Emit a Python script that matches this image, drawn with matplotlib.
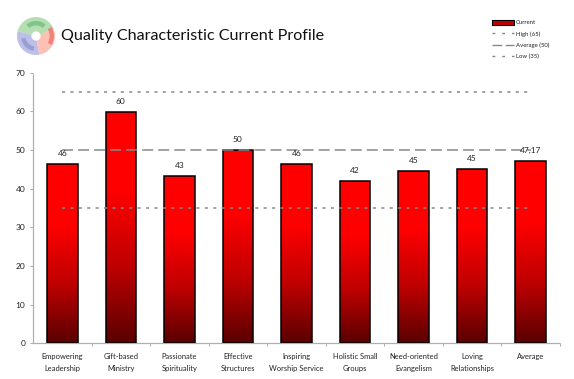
import matplotlib
matplotlib.use('Agg')
import matplotlib.pyplot as plt
from matplotlib.colors import LinearSegmentedColormap
from matplotlib.lines import Line2D
from matplotlib.patches import Patch, Wedge
import numpy as np

plt.rcParams['font.family'] = ['Lato', 'DejaVu Sans']

categories = ['Empowering\nLeadership', 'Gift-based\nMinistry', 'Passionate\nSpirituality',
              'Effective\nStructures', 'Inspiring\nWorship Service', 'Holistic Small\nGroups',
              'Need-oriented\nEvangelism', 'Loving\nRelationships', 'Average']
current = [46.3, 59.8, 43.2, 50.0, 46.3, 42.0, 44.7, 45.0, 47.17]
value_labels = ['46', '60', '43', '50', '46', '42', '45', '45', '47,17']
high = [65] * 9
average = [50] * 9
low = [35] * 9
yticks = [0, 10, 20, 30, 40, 50, 60, 70]

W, H = 574, 379
fig = plt.figure(figsize=(W / 100, H / 100), dpi=100, facecolor='white')
ax = fig.add_axes([33 / W, 1 - 343.3 / H, (560 - 33) / W, (343.3 - 72.7) / H])

x = np.arange(len(categories))
fade = LinearSegmentedColormap.from_list('fade', ['#ff0000', '#ff0000', '#c00000', '#5a0000'])
grad = np.linspace(0, 1, 128).reshape(-1, 1)

bars = ax.bar(x, current, width=0.52, facecolor='none', edgecolor='black', linewidth=1.1, zorder=3)
for b in bars:
    im = ax.imshow(grad, cmap=fade, aspect='auto', zorder=2,
                   extent=[b.get_x(), b.get_x() + b.get_width(), 0, b.get_height()])
    im.set_clip_path(b.get_path(), b.get_transform())

ax.plot(x, high, color='#888888', lw=1.1, ls=(0, (2, 3.5)), zorder=4)
ax.plot(x, average, color='#888888', lw=1.1, ls=(0, (7.2, 3.3)), zorder=4)
ax.plot(x, low, color='#888888', lw=1.1, ls=(0, (2, 3.5)), zorder=4)

for xi, v, s in zip(x, current, value_labels):
    ax.annotate(s, (xi, v), xytext=(0, 5), textcoords='offset points', ha='center', va='bottom',
                fontsize=6, color='#222222', zorder=5)

ax.set_xlim(-0.5, 8.5)
ax.set_ylim(0, 70)
ax.set_yticks(yticks)
ax.set_xticks(x + 0.5, minor=False)
ax.set_xticklabels([''] * len(x))
ax.set_xticks(x, labels=categories, minor=True)
ax.tick_params(axis='x', which='minor', length=0, labelsize=5.4, pad=7, colors='#222222')
ax.tick_params(axis='x', which='major', length=2.5, color='#aaaaaa', width=0.7)
ax.tick_params(axis='y', labelsize=6, length=2.5, color='#aaaaaa', width=0.7, pad=3, labelcolor='#222222')
for lab in ax.get_xticklabels(minor=True):
    lab.set_linespacing(1.9)
for s in ['top', 'right']:
    ax.spines[s].set_visible(False)
for s in ['left', 'bottom']:
    ax.spines[s].set_color('#b0b0b0')
    ax.spines[s].set_linewidth(0.9)
    ax.spines[s].set_linestyle((0, (1, 1)))

fig.text(61 / W, 1 - 36 / H, 'Quality Characteristic Current Profile', fontsize=11.6,
         color='#111111', va='center', ha='left')

handles = [Patch(facecolor='#c00000', edgecolor='black', linewidth=0.8),
           Line2D([], [], color='#888888', lw=1, ls=(0, (2, 5))),
           Line2D([], [], color='#888888', lw=1, ls=(0, (7, 2.5))),
           Line2D([], [], color='#888888', lw=1, ls=(0, (2, 5)))]
fig.legend(handles, ['Current', 'High (65)', 'Average (50)', 'Low (35)'], loc='upper left',
           bbox_to_anchor=(492 / W, 1 - 20 / H), bbox_transform=fig.transFigure, frameon=False,
           fontsize=4.3, handlelength=3.6, handleheight=0.8, labelspacing=0.95,
           handletextpad=0.4, borderpad=0, borderaxespad=0, labelcolor='#222222')

# logo, just a few soft ring pieces
logo = fig.add_axes([16 / W, 1 - 56 / H, 40 / W, 40 / H])
logo.set_xlim(-1, 1)
logo.set_ylim(-1, 1)
logo.axis('off')
logo.add_patch(Wedge((0, 0), 0.95, 20, 165, width=0.72, facecolor='#b5dfb0', edgecolor='none'))
logo.add_patch(Wedge((0, 0), 0.95, 165, 280, width=0.72, facecolor='#bcbfe6', edgecolor='none'))
logo.add_patch(Wedge((0, 0), 0.95, 280, 380, width=0.72, facecolor='#fcc0b4', edgecolor='none'))
logo.add_patch(Wedge((0, 0), 0.9, -30, 30, width=0.22, facecolor='#f4807a', edgecolor='none'))
logo.add_patch(Wedge((0, 0), 0.75, 50, 130, width=0.22, facecolor='#7fc48a', edgecolor='none'))
logo.add_patch(Wedge((0, 0), 0.75, 190, 260, width=0.22, facecolor='#9a9ed6', edgecolor='none'))

fig.savefig('out.png', dpi=100, facecolor='white')
